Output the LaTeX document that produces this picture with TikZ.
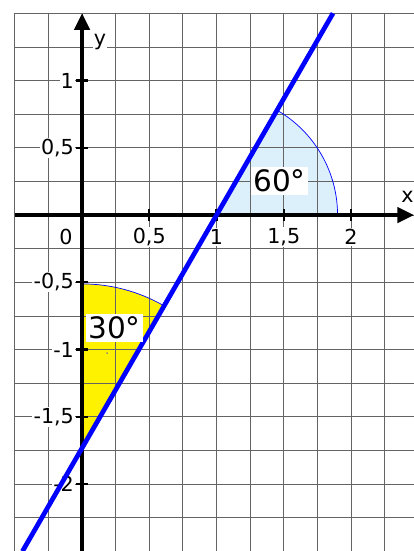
\documentclass[tikz,border=0pt]{standalone}
\usepackage{fontspec}
\setmainfont{DejaVu Sans}
\usetikzlibrary{arrows.meta}
\usepackage{xcolor}
\definecolor{lightsky}{RGB}{219,240,251}
\definecolor{gridgray}{RGB}{100,100,100}

\begin{document}
\begin{tikzpicture}[x=4cm,y=4cm,
  ticklbl/.style={fill=white,inner sep=1pt,font=\fontsize{17.5}{20}\selectfont},
  anglbl/.style={fill=white,inner sep=2pt,font=\fontsize{25}{30}\selectfont}]
  \useasboundingbox (-0.61,-2.498) rectangle (2.468,1.599);

  % Winkelflaechen
  \fill[lightsky] (1,0) -- (1.9,0) arc[start angle=0,end angle=60,radius=0.9] -- cycle;
  \fill[yellow] (0,-1.732) -- (0,-0.512) arc[start angle=90,end angle=60,radius=1.22] -- cycle;

  % Gitter
  \draw[gridgray,line width=0.7pt] (-0.5,-2.5) grid[step=0.25] (2.5,1.5);

  % Boegen
  \draw[blue,line width=0.6pt] (1.9,0) arc[start angle=0,end angle=60,radius=0.9];
  \draw[blue,line width=0.6pt] (0,-0.512) arc[start angle=90,end angle=60,radius=1.22];
  \fill[blue] (0.186,-1.026) circle (0.6pt);

  % Achsen
  \draw[line width=2.7pt,-{Stealth[length=14pt,width=13pt,inset=0pt]}] (-0.5,0) -- (2.468,0);
  \draw[line width=2.7pt,-{Stealth[length=14pt,width=13pt,inset=0pt]}] (0,-2.5) -- (0,1.5);
  \foreach \t/\s in {0.5/{0,5},1/1,1.5/{1,5},2/2} {
    \draw[line width=1.8pt] (\t,-0.045) -- (\t,0.045);
    \node[ticklbl] (xl\t) at (\t,-0.164) {\s};
  }
  \foreach \t/\s in {1/1,0.5/{0,5},-0.5/{-0,5},-1/{-1},-1.5/{-1,5},-2/{-2}} {
    \draw[line width=1.8pt] (-0.045,\t) -- (0.045,\t);
    \node[ticklbl,anchor=east] (yl\t) at (-0.05,\t) {\s};
  }
  \node[ticklbl] (null) at (-0.12,-0.164) {0};
  \node[ticklbl] (xname) at (2.42,0.134) {x};
  \node[ticklbl] (yname) at (0.134,1.286) {y};

  % Gerade
  \draw[blue,line width=4pt] (-0.443,-2.5) -- (1.866,1.5);

  % Winkel
  \node[anglbl] (w60) at (1.468,0.253) {60°};
  \node[anglbl] (w30) at (0.242,-0.840) {30°};
\end{tikzpicture}
\end{document}
